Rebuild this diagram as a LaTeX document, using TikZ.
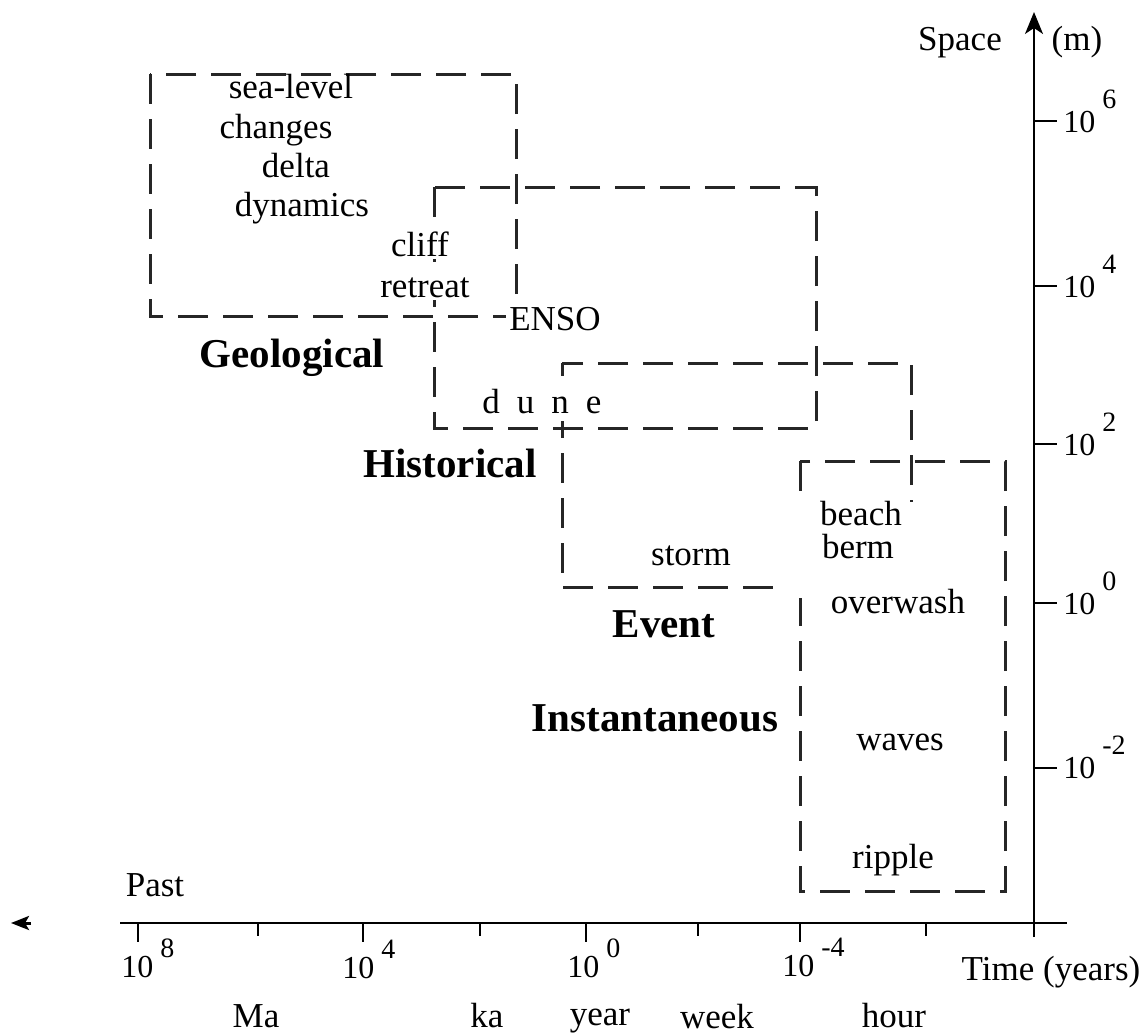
\documentclass[tikz,border=0pt]{standalone}
\usepackage{fontspec}
\setmainfont{Liberation Serif}
\usetikzlibrary{arrows.meta}
\newcommand\myvexp[1]{\hspace{3.5pt}\raisebox{12pt}{\fontsize{14}{16}\selectfont #1}}
\newcommand\myhexp[1]{\hspace{3.5pt}\raisebox{10pt}{\fontsize{14}{16}\selectfont #1}}
\begin{document}
\begin{tikzpicture}[x=0.5pt,y=-0.5pt]
\tikzset{
 lbl/.style={font=\fontsize{17.5}{21}\selectfont, anchor=base, inner sep=1.5pt},
 bld/.style={font=\fontsize{20.5}{24}\selectfont\bfseries, anchor=base, inner sep=1.5pt},
 cov/.style={fill=white},
 bx/.style={line width=1.5pt, dash pattern=on 15pt off 7.5pt, draw=black!85},
 axis/.style={line width=1pt},
 tkl/.style={font=\fontsize{16}{18}\selectfont, anchor=base west, inner sep=0pt},
}
\useasboundingbox (0,0) rectangle (1146,1033);
% boxes
\draw[bx] (150,74) rectangle (516,316);
\draw[bx] (434,187) rectangle (816,428);
\draw[bx] (562,363) rectangle (911,587);
\draw[bx] (800,461) rectangle (1005,891);
\fill[white] (782,502) rectangle (914,598);
% axes
\coordinate (xs) at (120,923);
\coordinate (xe) at (1067,923);
\coordinate (ys) at (1034,937);
\coordinate (ye) at (1034,12);
\draw[axis] (xs) -- (xe);
\draw[axis,-{Stealth[length=11pt,width=9pt,inset=3pt]}] (ys) -- (ye);
\foreach \t in {138,363,586,800}{\draw[axis] (\t,923) -- (\t,942);}
\foreach \t in {258,480,698,926}{\draw[axis] (\t,923) -- (\t,936);}
\foreach \t in {121,286,444,603,768}{\draw[axis] (1034,\t) -- (1057,\t);}
% small arrow at left
\coordinate (la1) at (31,923);
\coordinate (la2) at (11,923);
\draw[line width=1.5pt,-{Stealth[length=9pt,width=7pt,inset=2pt]}] (la1) -- (la2);
% vertical tick labels
\node[tkl] (v6) at (1063,132) {10\myvexp{6}};
\node[tkl] (v4) at (1063,297) {10\myvexp{4}};
\node[tkl] (v2) at (1063,455) {10\myvexp{2}};
\node[tkl] (v0) at (1063,614) {10\myvexp{0}};
\node[tkl] (vm2) at (1063,778) {10\myvexp{-2}};
% horizontal tick labels
\node[tkl] (h8) at (121,977) {10\myhexp{8}};
\node[tkl] (h4) at (342,978) {10\myhexp{4}};
\node[tkl] (h0) at (567,977) {10\myhexp{0}};
\node[tkl] (hm4) at (782,976) {10\myhexp{-4}};
% axis names
\node[lbl] (space) at (960,50) {Space};
\node[lbl] (munit) at (1077,50) {(m)};
\node[lbl] (time) at (1051,980) {Time (years)};
\node[lbl] (past) at (155,896) {Past};
\node[lbl] (ma) at (256,1027) {Ma};
\node[lbl] (ka) at (487,1027) {ka};
\node[lbl] (year) at (600,1025) {year};
\node[lbl] (week) at (717,1028) {week};
\node[lbl] (hour) at (894,1027) {hour};
% process labels
\node[lbl] (sealevel) at (291,98) {sea-level};
\node[lbl] (changes) at (276,138) {changes};
\node[lbl] (delta) at (296,177) {delta};
\node[lbl] (dynamics) at (302,216) {dynamics};
\node[lbl,cov] (cliff) at (420,256) {cliff};
\node[lbl,cov] (retreat) at (425,297) {retreat};
\node[lbl,cov] (enso) at (555,330) {ENSO};
\node[lbl,cov,text height=17pt,text depth=2.5pt] (dune) at (542,413) {d\hspace{8.5pt}u\hspace{8.5pt}n\hspace{8.5pt}e};
\node[lbl] (storm) at (691,565) {storm};
\node[lbl] (beach) at (861,525) {beach};
\node[lbl] (berm) at (858,558) {berm};
\node[lbl] (overwash) at (898,613) {overwash};
\node[lbl] (waves) at (900,750) {waves};
\node[lbl] (ripple) at (893,868) {ripple};
% scale labels
\node[bld] (geo) at (292,367) {Geological};
\node[bld] (hist) at (450,477) {Historical};
\node[bld] (event) at (664,637) {Event};
\node[bld] (inst) at (655,731) {Instantaneous};
\end{tikzpicture}
\end{document}
